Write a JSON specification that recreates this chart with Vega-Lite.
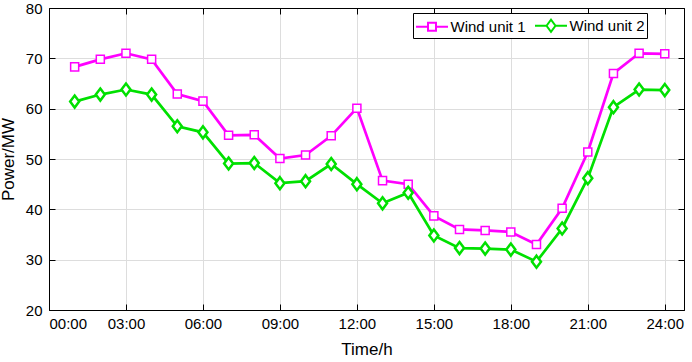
{
  "$schema": "https://vega.github.io/schema/vega-lite/v6.json",
  "width": 635,
  "height": 302,
  "autosize": {"type": "none"},
  "padding": {"left": 49, "top": 8, "right": 8, "bottom": 52},
  "background": "white",
  "config": {
    "view": {"stroke": "black", "strokeWidth": 1},
    "axis": {
      "labelFont": "Liberation Sans",
      "labelFontSize": 15,
      "labelColor": "black",
      "titleFont": "Liberation Sans",
      "titleFontSize": 17,
      "titleFontWeight": "normal",
      "titleColor": "black",
      "domainColor": "black",
      "tickColor": "black",
      "gridColor": "#dddddd",
      "gridWidth": 1,
      "tickSize": -6,
      "tickWidth": 1
    },
    "legend": {
      "labelFont": "Liberation Sans",
      "labelFontSize": 15,
      "labelColor": "black"
    }
  },
  "resolve": {"axis": {"x": "independent", "y": "independent"}},
  "data": {
    "values": [
      {"hour": 1, "series": "Wind unit 1", "power": 68.3},
      {"hour": 2, "series": "Wind unit 1", "power": 69.8},
      {"hour": 3, "series": "Wind unit 1", "power": 71.0},
      {"hour": 4, "series": "Wind unit 1", "power": 69.8},
      {"hour": 5, "series": "Wind unit 1", "power": 62.9},
      {"hour": 6, "series": "Wind unit 1", "power": 61.5},
      {"hour": 7, "series": "Wind unit 1", "power": 54.7},
      {"hour": 8, "series": "Wind unit 1", "power": 54.8},
      {"hour": 9, "series": "Wind unit 1", "power": 50.1},
      {"hour": 10, "series": "Wind unit 1", "power": 50.8},
      {"hour": 11, "series": "Wind unit 1", "power": 54.6},
      {"hour": 12, "series": "Wind unit 1", "power": 60.1},
      {"hour": 13, "series": "Wind unit 1", "power": 45.7},
      {"hour": 14, "series": "Wind unit 1", "power": 45.0},
      {"hour": 15, "series": "Wind unit 1", "power": 38.7},
      {"hour": 16, "series": "Wind unit 1", "power": 36.0},
      {"hour": 17, "series": "Wind unit 1", "power": 35.8},
      {"hour": 18, "series": "Wind unit 1", "power": 35.5},
      {"hour": 19, "series": "Wind unit 1", "power": 33.0},
      {"hour": 20, "series": "Wind unit 1", "power": 40.2},
      {"hour": 21, "series": "Wind unit 1", "power": 51.4},
      {"hour": 22, "series": "Wind unit 1", "power": 67.0},
      {"hour": 23, "series": "Wind unit 1", "power": 71.0},
      {"hour": 24, "series": "Wind unit 1", "power": 70.9},
      {"hour": 1, "series": "Wind unit 2", "power": 61.4},
      {"hour": 2, "series": "Wind unit 2", "power": 62.8},
      {"hour": 3, "series": "Wind unit 2", "power": 63.8},
      {"hour": 4, "series": "Wind unit 2", "power": 62.8},
      {"hour": 5, "series": "Wind unit 2", "power": 56.5},
      {"hour": 6, "series": "Wind unit 2", "power": 55.3},
      {"hour": 7, "series": "Wind unit 2", "power": 49.1},
      {"hour": 8, "series": "Wind unit 2", "power": 49.2},
      {"hour": 9, "series": "Wind unit 2", "power": 45.2},
      {"hour": 10, "series": "Wind unit 2", "power": 45.6},
      {"hour": 11, "series": "Wind unit 2", "power": 49.0},
      {"hour": 12, "series": "Wind unit 2", "power": 45.0},
      {"hour": 13, "series": "Wind unit 2", "power": 41.2},
      {"hour": 14, "series": "Wind unit 2", "power": 43.3},
      {"hour": 15, "series": "Wind unit 2", "power": 34.8},
      {"hour": 16, "series": "Wind unit 2", "power": 32.3},
      {"hour": 17, "series": "Wind unit 2", "power": 32.2},
      {"hour": 18, "series": "Wind unit 2", "power": 32.0},
      {"hour": 19, "series": "Wind unit 2", "power": 29.6},
      {"hour": 20, "series": "Wind unit 2", "power": 36.2},
      {"hour": 21, "series": "Wind unit 2", "power": 46.2},
      {"hour": 22, "series": "Wind unit 2", "power": 60.3},
      {"hour": 23, "series": "Wind unit 2", "power": 63.8},
      {"hour": 24, "series": "Wind unit 2", "power": 63.7}
    ]
  },
  "layer": [
    {
      "mark": {"type": "line", "strokeWidth": 2.7},
      "encoding": {
        "x": {
          "field": "hour", "type": "quantitative",
          "scale": {"domain": [0, 24.75], "nice": false, "zero": false},
          "axis": {
            "orient": "bottom",
            "values": [0, 3, 6, 9, 12, 15, 18, 21, 24],
            "labelExpr": "(datum.value < 10 ? '0' : '') + datum.value + ':00'",
            "title": "Time/h",
            "labelPadding": 12,
            "titlePadding": 10,
            "grid": true
          }
        },
        "y": {
          "field": "power", "type": "quantitative",
          "scale": {"domain": [20, 80], "nice": false, "zero": false},
          "axis": {
            "orient": "left",
            "values": [20, 30, 40, 50, 60, 70, 80],
            "title": "Power/MW",
            "labelPadding": 13,
            "titlePadding": 8,
            "grid": true
          }
        },
        "color": {
          "field": "series", "type": "nominal",
          "scale": {"domain": ["Wind unit 1", "Wind unit 2"], "range": ["#ff00ff", "#00e000"]},
          "legend": {
            "title": null,
            "orient": "none",
            "legendX": 364,
            "legendY": 5,
            "direction": "horizontal",
            "strokeColor": "black",
            "fillColor": "white",
            "padding": 2,
            "symbolSize": 361,
            "symbolOffset": 6.5,
            "symbolStrokeWidth": 2,
            "labelOffset": 8,
            "columnPadding": 5,
            "encode": {
              "symbols": {
                "update": {
                  "shape": {"signal": "datum.value == 'Wind unit 1' ? 'M-1.684,0L-0.42,0M-0.42,-0.42L0.42,-0.42L0.42,0.42L-0.42,0.42ZM0.42,0L1.684,0' : 'M-1.684,0L-0.47,0M-0.47,0L0,-0.63L0.47,0L0,0.63ZM0.47,0L1.684,0'"},
                  "fill": {"value": "white"},
                  "fillOpacity": {"value": 1},
                  "strokeWidth": {"value": 2}
                }
              }
            }
          }
        }
      }
    },
    {
      "transform": [{"filter": "datum.series == 'Wind unit 1'"}],
      "mark": {"type": "point", "shape": "M-0.67,-0.67L0.67,-0.67L0.67,0.67L-0.67,0.67Z", "size": 144, "filled": false, "fill": "white", "fillOpacity": 1, "stroke": "#ff00ff", "strokeWidth": 1.5, "opacity": 1},
      "encoding": {
        "x": {
          "field": "hour", "type": "quantitative",
          "axis": {"orient": "top", "values": [0, 3, 6, 9, 12, 15, 18, 21, 24], "labels": false, "title": null, "grid": false}
        },
        "y": {
          "field": "power", "type": "quantitative",
          "axis": {"orient": "right", "values": [20, 30, 40, 50, 60, 70, 80], "labels": false, "title": null, "grid": false}
        }
      }
    },
    {
      "transform": [{"filter": "datum.series == 'Wind unit 2'"}],
      "mark": {"type": "point", "shape": "M0,-1L0.75,0L0,1L-0.75,0Z", "size": 144, "filled": false, "fill": "white", "fillOpacity": 1, "stroke": "#00e000", "strokeWidth": 2.5, "opacity": 1},
      "encoding": {
        "x": {"field": "hour", "type": "quantitative", "axis": null},
        "y": {"field": "power", "type": "quantitative", "axis": null}
      }
    }
  ]
}
